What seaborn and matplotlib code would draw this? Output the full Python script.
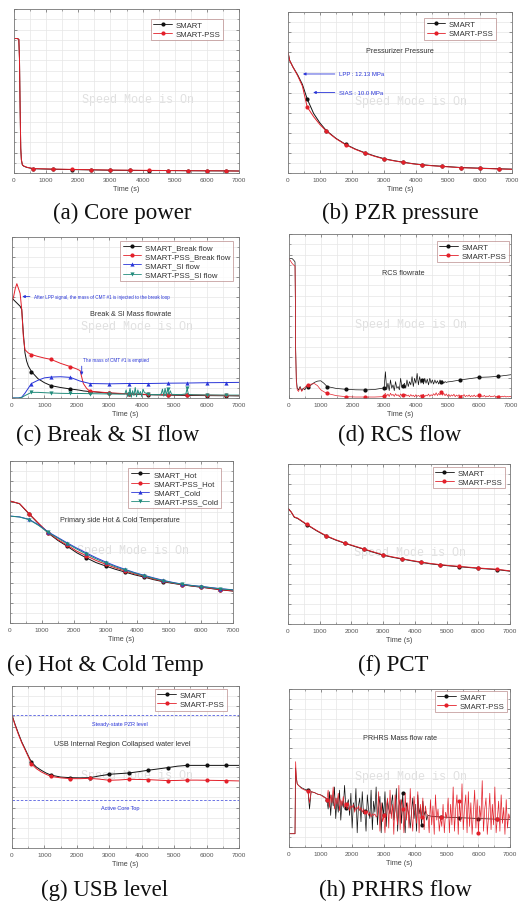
import numpy as np
import pandas as pd
import matplotlib
matplotlib.use("Agg")
import matplotlib.pyplot as plt
from matplotlib.lines import Line2D
from matplotlib.ticker import MultipleLocator
import seaborn as sns

sns.set_theme(style="white")
plt.rcParams['font.family'] = ['Liberation Sans', 'DejaVu Sans']

MARK_T = [600, 1200, 1800, 2400, 3000, 3600, 4200, 4800, 5400, 6000, 6600]
BLACK, RED, BLUE, TEAL = '#111111', '#e3202a', '#2a36d8', '#238c7c'

# ---------------- (a) Core power ----------------
t_a = [0, 100, 150, 170, 190, 210, 230, 260, 300, 400, 600, 1200, 1800, 2400, 3000, 3600, 4200, 4800, 5400, 6000, 6600, 7000]
a_smart = [82, 82, 81.5, 70, 40, 15, 8, 5, 4.2, 3.4, 2.6, 2.3, 2.1, 1.9, 1.7, 1.6, 1.5, 1.5, 1.4, 1.3, 1.3, 1.2]
a_pss = [82, 82, 81.5, 70, 40, 15, 8, 5, 4.3, 3.5, 2.7, 2.4, 2.2, 2.0, 1.8, 1.7, 1.6, 1.5, 1.4, 1.4, 1.3, 1.2]

# ---------------- (b) PZR pressure ----------------
t_b = [0, 50, 150, 300, 450, 600, 800, 1000, 1200, 1500, 1800, 2100, 2400, 2700, 3000, 3300, 3600, 3900, 4200, 4500, 4800, 5100, 5400, 5700, 6000, 6300, 6600, 7000]
b_smart = [75, 70, 66, 61, 55, 46, 37, 31, 26.3, 21.5, 17.8, 14.9, 12.6, 10.6, 8.9, 7.7, 6.7, 5.8, 5.1, 4.6, 4.2, 3.8, 3.4, 3.2, 3.0, 2.8, 2.6, 2.4]
b_pss = [75, 70, 66, 60.5, 54, 41, 35, 30, 26, 21.3, 17.6, 14.7, 12.4, 10.4, 8.7, 7.6, 6.6, 5.7, 5.0, 4.5, 4.1, 3.7, 3.3, 3.1, 2.9, 2.7, 2.5, 2.3]

# ---------------- (c) Break & SI flow ----------------
t_c_brk = [0, 50, 100, 150, 200, 250, 300, 350, 400, 450, 500, 600, 800, 1000, 1200, 1500, 1800, 2000, 2100, 2150, 2200, 2300, 2400, 3000, 3600, 4200, 4800, 5400, 6000, 6600, 7000]
c_smart_brk = [62, 61, 60, 59, 58, 57, 55, 40, 28, 23, 20, 16.4, 12, 9.5, 7.7, 6.5, 5.6, 5.1, 4.8, 4.6, 4.4, 4.2, 4.0, 3.0, 2.5, 2.0, 1.8, 1.6, 1.5, 1.4, 1.3]
c_pss_brk = [60, 63, 68, 71, 68, 65, 55, 38, 30, 29, 28, 27, 25.8, 24.8, 24, 21.5, 19.5, 18, 17, 13, 9, 6, 4.2, 3.2, 2.6, 2.2, 2.0, 2.0, 1.8, 1.6, 1.5]
t_c_si = [0, 200, 300, 400, 600, 800, 1000, 1200, 1500, 1800, 2100, 2400, 3000, 3600, 4200, 4800, 5400, 6000, 6600, 7000]
c_smart_si = [0, 0, 0.5, 3, 9, 11, 12.5, 13, 13.2, 12.8, 10.5, 9, 8.8, 9, 9, 9.2, 9.3, 9.5, 9.6, 9.7]
t_c_si2 = ([0, 200, 300, 400, 600, 800, 1000, 1200, 1500, 1800, 2100, 2400, 2700, 3000, 3300, 3480]
           + [3520 + 40 * k for k in range(15)]
           + [4200, 4400, 4560]
           + [4600 + 40 * k for k in range(9)]
           + [5000, 5200, 5360, 5400, 5440, 5600, 6000, 6600, 7000])
c_pss_si = ([0, 0, 0.3, 1.5, 3.5, 3.5, 3.3, 3.1, 2.9, 2.8, 2.8, 2.7, 2.6, 2.5, 2.4, 2.5]
            + [5, 1, 2.5, 6, 0.5, 4.5, 1.5, 6.5, 0.8, 5, 2, 4, 1, 5.5, 3.5]
            + [2.2, 2.1, 2.2]
            + [2.5, 5.5, 1.2, 6, 1.5, 5.8, 2, 4.5, 2.3]
            + [2.2, 2.1, 2.5, 6, 2.2, 2.0, 1.9, 1.8, 1.8])

# ---------------- (d) RCS flow ----------------
t_d_head = [0, 100, 150, 190, 200, 210, 230, 260, 300, 350, 400, 450, 500, 550, 600, 700, 800, 900, 1000, 1100, 1200, 1500, 1800, 2100, 2400, 2700, 2950]
d_smart_head = [85, 85, 84, 83, 60, 30, 12, 6, 5, 7, 4.5, 6, 5, 7, 6.5, 8, 9.5, 10.3, 10.5, 9, 7, 5.8, 5.3, 5, 4.9, 5.2, 6]
d_smart_noise = [6.3, 16, 5, 9, 4.5, 11, 6, 8, 4.5, 10, 6, 7, 5, 12, 6.5, 7.5, 9, 6, 11, 7,
                 10, 8, 13, 7, 12, 9, 15, 8, 13, 9, 11, 8.5, 12, 9, 11.5, 8, 12, 9, 11, 8.5,
                 11, 9, 10.5, 8.5, 11, 9.5, 10.5, 9, 10, 9.5, 9.8]
t_d_tail_s = [5100, 5400, 5700, 6000, 6300, 6600, 7000]
d_smart_tail = [10, 11, 11.8, 12.6, 12.8, 13.2, 14.2]
d_pss_head = [85, 82, 81, 80.5, 60, 30, 10, 5, 4, 6.5, 4, 5.5, 6.5, 7.5, 8, 8.5, 8.8, 7.5, 5, 3.8, 2.8, 1.4, 0.8, 0.6, 0.6, 0.6, 0.8]
d_pss_noise = [1.5, 2.8, 1.2, 2.4, 0.9, 2.9, 1.6, 2.2, 1.0, 2.6,
               1.4, 2.0, 0.8, 2.5, 1.3, 1.9, 0.9, 2.3, 1.2, 1.8,
               0.8, 2.1, 1.1, 1.7, 0.7, 2.0, 1.0, 1.6, 0.9, 1.9,
               1.2, 2.2, 0.8, 1.8, 1.3, 2.4, 1.0, 2.0, 1.4, 2.6,
               1.6, 3.2, 1.5, 2.8, 1.8, 3.5, 1.7, 2.9, 1.4, 2.5,
               1.1, 2.2, 0.9, 1.9, 1.2, 2.3, 0.8, 1.8, 1.1, 2.0,
               0.9, 1.7, 1.2, 2.1, 0.8, 1.6, 1.0, 1.9, 0.7, 1.5,
               0.9, 1.8, 0.8, 1.4, 1.1, 1.7, 0.7, 1.3, 0.9, 1.6,
               0.6, 1.2, 0.8, 1.5, 0.7, 1.1, 0.9, 1.4, 0.6, 1.0,
               0.8, 1.3, 0.6, 1.1, 0.7, 1.2, 0.6, 0.9, 0.7, 1.0, 0.8]

# ---------------- (e) Hot & Cold temperature ----------------
t_e = [0, 300, 600, 900, 1200, 1500, 1800, 2100, 2400, 2700, 3000, 3300, 3600, 3900, 4200, 4500, 4800, 5100, 5400, 5700, 6000, 6300, 6600, 7000]
e_smart_hot = [75.3, 73.6, 67.3, 61.2, 55.5, 51, 47.3, 43.3, 40.2, 37.3, 35.2, 33.2, 31.5, 29.8, 28.4, 26.8, 25.5, 24.5, 23.6, 22.8, 22.1, 21.3, 20.5, 19.7]
e_pss_hot = [75.3, 73.7, 67.5, 61.5, 55.8, 51.5, 48, 44.3, 41.5, 38.6, 36.3, 34.1, 32.2, 30.4, 28.9, 27.2, 25.8, 24.7, 23.7, 22.9, 22.2, 21.4, 20.6, 19.8]
e_smart_cold = [66, 65.5, 64, 60.5, 56.2, 52.8, 49.4, 46.2, 43.2, 40.3, 37.7, 35.3, 33.2, 31.2, 29.5, 27.9, 26.4, 25.1, 24, 23.2, 22.6, 21.9, 21.2, 20.5]
e_pss_cold = [66, 65.4, 63.8, 60.2, 55.9, 52.4, 48.9, 45.6, 42.5, 39.6, 37.1, 34.8, 32.8, 30.9, 29.2, 27.6, 26.1, 24.9, 23.9, 23.1, 22.5, 21.8, 21.1, 20.4]

# ---------------- (f) PCT ----------------
t_f = [0, 100, 200, 300, 600, 900, 1200, 1500, 1800, 2100, 2400, 2700, 3000, 3300, 3600, 3900, 4200, 4500, 4800, 5100, 5400, 5700, 6000, 6300, 6600, 7000]
f_smart = [72.3, 70, 66.7, 66, 62, 58.3, 55, 52.5, 50.4, 48.5, 46.7, 44.8, 43, 41.7, 40.6, 39.5, 38.5, 37.6, 36.9, 36.3, 35.8, 35.3, 34.8, 34.4, 34, 33]
f_pss = [72.3, 70, 66.9, 66.2, 62.2, 58.5, 55.2, 52.7, 50.6, 48.7, 46.9, 45, 43.2, 41.9, 40.8, 39.7, 38.7, 37.8, 37.1, 36.5, 36, 35.5, 35, 34.6, 34.2, 33.2]

# ---------------- (g) USB level ----------------
t_g = [0, 100, 200, 300, 400, 500, 600, 750, 900, 1050, 1200, 1500, 1800, 2100, 2400, 2700, 3000, 3300, 3600, 3900, 4200, 4500, 4800, 5100, 5400, 5700, 6000, 6300, 6600, 7000]
g_smart = [81.9, 76, 70.6, 65.5, 61.3, 57, 53, 50, 48, 46.3, 45, 43.8, 43.4, 43.3, 43.4, 44.5, 45.5, 45.9, 46.3, 47.1, 48, 48.8, 49.6, 50.5, 51, 51, 51, 51, 51, 51]
g_pss = [81.9, 75.5, 70, 65, 60.8, 56.5, 52, 49, 47, 45.5, 44.2, 43.3, 42.8, 42.8, 43, 42.5, 41.8, 42, 42.4, 42.3, 42.2, 41.9, 41.6, 41.7, 41.9, 41.9, 41.8, 41.7, 41.6, 41.4]
g_pzr_level = 81.9
g_core_top = 29.8

# ---------------- (h) PRHRS flow ----------------
t_h_head = [0, 150, 190, 200, 210, 230, 260, 300, 400, 500, 600, 650, 700, 800, 900, 1000, 1100, 1160]
h_smart_head = [8.4, 8.4, 8.4, 30, 50, 44, 40, 39, 37.5, 36.5, 35.8, 24, 35, 34.5, 33.5, 33, 32, 31]
h_smart_noise = [30, 24, 35, 20, 33, 26, 38, 18, 31, 22,
                 36, 17, 29, 25, 39, 25, 27, 30, 20, 34,
                 12, 28, 23, 37, 9, 26, 31, 16, 35, 21,
                 23, 10, 33, 24, 18, 36, 11, 29, 22, 38,
                 14, 25, 32, 9, 28, 20, 35, 13, 30, 24,
                 21, 27, 33, 17, 23, 37, 10, 26, 30, 15,
                 34, 20, 9, 28, 24, 20, 12, 22, 31, 18,
                 27, 10, 33, 21, 25, 14, 29, 20, 23, 17, 20]
t_h_tail_s = [4500, 4800, 5100, 5400, 5700, 6000, 6300, 6600, 7000]
h_smart_tail = [19.5, 19, 18.8, 18.5, 18.3, 18, 17.8, 17.6, 17.5]
h_pss_head = [8.4, 8.4, 8.4, 40, 54, 45, 40, 39, 37, 36, 35.5, 28, 35, 34.5, 33.5, 33, 31.5, 31]
h_pss_noise = ([30, 36, 25, 33, 28, 38, 24, 31, 27, 34, 23, 30, 26, 32, 25]
               + [27, 24, 28, 23, 26, 25, 27, 22, 25, 24, 26, 23, 25, 22, 24]
               + [22, 21, 23, 20, 22, 19, 21, 20, 21, 19]
               + [20, 35, 10, 28, 16, 20, 9, 25, 31, 12,
                  36, 18, 27, 8, 33, 22, 14, 39, 11, 30,
                  24, 9, 34, 17, 28, 12, 37, 20, 10, 32,
                  23, 15, 35, 9, 27, 19, 31, 11, 26, 21]
               + [20, 9, 30, 14, 26, 8, 33, 17, 24, 10, 19, 13, 27, 9, 22]
               + [18, 31, 9, 27, 14, 38, 10, 24, 33, 8,
                  29, 16, 40, 11, 25, 33, 9, 35, 13, 28,
                  8, 22, 36, 12, 30, 9, 26, 17, 42, 10,
                  24, 31, 8, 19, 34, 11, 27, 14, 38, 9,
                  18, 29, 10, 33, 15, 25, 8, 30, 12, 21, 18])

# ---------------- assemble time axes for noisy series ----------------
t_d_noise = [3000 + 40 * k for k in range(len(d_smart_noise))]
t_d_smart = t_d_head + t_d_noise + t_d_tail_s
d_smart = d_smart_head + d_smart_noise + d_smart_tail
t_d_pss = t_d_head + [3000 + 40 * k for k in range(len(d_pss_noise))]
d_pss = d_pss_head + d_pss_noise
t_h_smart = t_h_head + [1200 + 40 * k for k in range(len(h_smart_noise))] + t_h_tail_s
h_smart = h_smart_head + h_smart_noise + h_smart_tail
t_h_pss = t_h_head + [1200 + 40 * k for k in range(len(h_pss_noise))]
h_pss = h_pss_head + h_pss_noise

W, H = 519, 903
fig = plt.figure(figsize=(W / 100, H / 100), dpi=100)
fig.patch.set_facecolor('white')


def make_ax(l, t, r, b):
    return fig.add_axes([l / W, 1 - b / H, (r - l) / W, (b - t) / H])


def style(ax):
    ax.set_xlim(0, 7000)
    ax.set_ylim(0, 100)
    ax.xaxis.set_major_locator(MultipleLocator(1000))
    ax.xaxis.set_minor_locator(MultipleLocator(500))
    ax.yaxis.set_major_locator(MultipleLocator(12.5))
    ax.yaxis.set_minor_locator(MultipleLocator(6.25))
    ax.grid(True, which='both', color='#e6e6e6', lw=0.5)
    ax.set_axisbelow(True)
    ax.tick_params(which='both', direction='in', top=True, right=True, bottom=True, left=True,
                   labelsize=4.6, labelcolor='#555555', color='#666666', pad=3)
    ax.tick_params(which='major', length=2.2, width=0.5)
    ax.tick_params(which='minor', length=1.2, width=0.4)
    ax.tick_params(labelleft=False)
    ax.set_xlabel('Time (s)', fontsize=5.2, color='#444444', labelpad=2)
    ax.set_ylabel('')
    for s in ax.spines.values():
        s.set_color('#777777')
        s.set_linewidth(0.6)
    ax.text(0.55, 0.45, 'Speed Mode is On', transform=ax.transAxes, ha='center', va='center',
            fontsize=8.5, family='Liberation Mono', color='#e0e0e0', zorder=0)


def draw(ax, t, y, color, marker, lw=0.7, ms=3.0):
    assert len(t) == len(y)
    df = pd.DataFrame({'t': t, 'v': y})
    idx = [i for i, tt in enumerate(t) if tt in MARK_T]
    sns.lineplot(data=df, x='t', y='v', ax=ax, color=color, lw=lw, marker=marker, markersize=ms,
                 markevery=idx, markeredgewidth=0, sort=False, estimator=None, legend=False)


def legend(ax, entries, anchor=(0.97, 0.95)):
    handles = [Line2D([], [], color=c, marker=m, lw=0.6, ms=3.0, markeredgewidth=0) for c, m, _ in entries]
    labels = [lab for _, _, lab in entries]
    leg = ax.legend(handles, labels, loc='upper right', bbox_to_anchor=anchor, fontsize=5.6,
                    frameon=True, fancybox=False, handlelength=2.4, handletextpad=0.5,
                    labelspacing=0.22, borderpad=0.3, borderaxespad=0)
    leg.get_frame().set_edgecolor('#b88888')
    leg.get_frame().set_linewidth(0.6)
    for txt in leg.get_texts():
        txt.set_color('#333333')


def caption(x, y, s):
    fig.text(x / W, 1 - y / H, s, ha='center', va='center', fontsize=16.5, family='Liberation Serif', color='#111111')


def note(ax, x, y, s, size=5.2, color='#333333'):
    ax.text(x, y, s, ha='center', va='center', fontsize=size, color=color)


two = [(BLACK, 'o', 'SMART'), (RED, 'o', 'SMART-PSS')]

# (a)
ax = make_ax(14, 10, 239, 174)
style(ax)
draw(ax, t_a, a_smart, BLACK, 'o')
draw(ax, t_a, a_pss, RED, 'o')
legend(ax, two, (0.93, 0.94))
caption(122, 213, '(a) Core power')

# (b)
ax = make_ax(288, 13, 512, 174)
style(ax)
draw(ax, t_b, b_smart, BLACK, 'o')
draw(ax, t_b, b_pss, RED, 'o')
legend(ax, two, (0.93, 0.96))
note(ax, 3500, 76, 'Pressurizer Pressure')
ax.annotate('', xy=(380, 61.5), xytext=(1550, 61.5), arrowprops=dict(arrowstyle='-|>', color=BLUE, lw=0.6, mutation_scale=4))
ax.text(1580, 61.5, 'LPP : 12.13 MPa', fontsize=4.3, color=BLUE, va='center', ha='left')
ax.annotate('', xy=(700, 50), xytext=(1550, 50), arrowprops=dict(arrowstyle='-|>', color=BLUE, lw=0.6, mutation_scale=4))
ax.text(1580, 50, 'SIAS : 10.0 MPa', fontsize=4.3, color=BLUE, va='center', ha='left')
caption(400, 213, '(b) PZR pressure')

# (c)
ax = make_ax(12, 238, 239, 399)
style(ax)
draw(ax, t_c_brk, c_smart_brk, BLACK, 'o')
draw(ax, t_c_brk, c_pss_brk, RED, 'o')
draw(ax, t_c_si, c_smart_si, BLUE, '^')
draw(ax, t_c_si2, c_pss_si, TEAL, 'v')
legend(ax, [(BLACK, 'o', 'SMART_Break flow'), (RED, 'o', 'SMART-PSS_Break flow'),
            (BLUE, '^', 'SMART_SI flow'), (TEAL, 'v', 'SMART-PSS_SI flow')], (0.974, 0.975))
note(ax, 3650, 52.5, 'Break & SI Mass flowrate')
ax.annotate('', xy=(230, 63), xytext=(640, 63), arrowprops=dict(arrowstyle='-|>', color=BLUE, lw=0.6, mutation_scale=4))
ax.text(680, 63, 'After LPP signal, the mass of CMT #1 is injected to the break loop', fontsize=3.3, color=BLUE, va='center', ha='left')
ax.text(3200, 24, 'The mass of CMT #1 is emptied', fontsize=3.3, color=BLUE, va='center', ha='center')
ax.annotate('', xy=(2150, 12.5), xytext=(2150, 21.5), arrowprops=dict(arrowstyle='-|>', color=BLUE, lw=0.6, mutation_scale=4))
caption(108, 435, '(c) Break & SI flow')

# (d)
ax = make_ax(289, 235, 511, 399)
style(ax)
draw(ax, t_d_smart, d_smart, BLACK, 'o', lw=0.5)
draw(ax, t_d_pss, d_pss, RED, 'o', lw=0.5)
legend(ax, two, (0.99, 0.957))
note(ax, 3590, 76.5, 'RCS flowrate')
caption(400, 435, '(d) RCS flow')

# (e)
ax = make_ax(10, 462, 233, 624)
style(ax)
draw(ax, t_e, e_smart_hot, BLACK, 'o')
draw(ax, t_e, e_pss_hot, RED, 'o')
draw(ax, t_e, e_smart_cold, BLUE, '^')
draw(ax, t_e, e_pss_cold, TEAL, 'v')
legend(ax, [(BLACK, 'o', 'SMART_Hot'), (RED, 'o', 'SMART-PSS_Hot'),
            (BLUE, '^', 'SMART_Cold'), (TEAL, 'v', 'SMART-PSS_Cold')], (0.945, 0.955))
note(ax, 3450, 63.8, 'Primary side Hot & Cold Temperature')
caption(105, 665, '(e) Hot & Cold Temp')

# (f)
ax = make_ax(288, 465, 510, 625)
style(ax)
draw(ax, t_f, f_smart, BLACK, 'o')
draw(ax, t_f, f_pss, RED, 'o')
legend(ax, two, (0.977, 0.98))
caption(393, 665, '(f) PCT')

# (g)
ax = make_ax(12, 687, 239, 849)
style(ax)
ax.axhline(g_pzr_level, color=BLUE, ls=(0, (3, 2)), lw=0.6, alpha=0.8)
ax.axhline(g_core_top, color=BLUE, ls=(0, (3, 2)), lw=0.6, alpha=0.8)
draw(ax, t_g, g_smart, BLACK, 'o')
draw(ax, t_g, g_pss, RED, 'o')
legend(ax, two, (0.947, 0.98))
ax.text(3330, 77, 'Steady-state PZR level', fontsize=4, color=BLUE, ha='center', va='center')
ax.text(3330, 24.7, 'Active Core Top', fontsize=4, color=BLUE, ha='center', va='center')
note(ax, 3400, 64.4, 'USB Internal Region Collapsed water level')
caption(105, 890, '(g) USB level')

# (h)
ax = make_ax(289, 690, 510, 848)
style(ax)
draw(ax, t_h_smart, h_smart, BLACK, 'o', lw=0.5)
draw(ax, t_h_pss, h_pss, RED, 'o', lw=0.5)
legend(ax, two, (0.986, 0.987))
note(ax, 3530, 69.5, 'PRHRS Mass flow rate')
caption(395, 890, '(h) PRHRS flow')

fig.savefig('out.png', dpi=100, facecolor='white')
